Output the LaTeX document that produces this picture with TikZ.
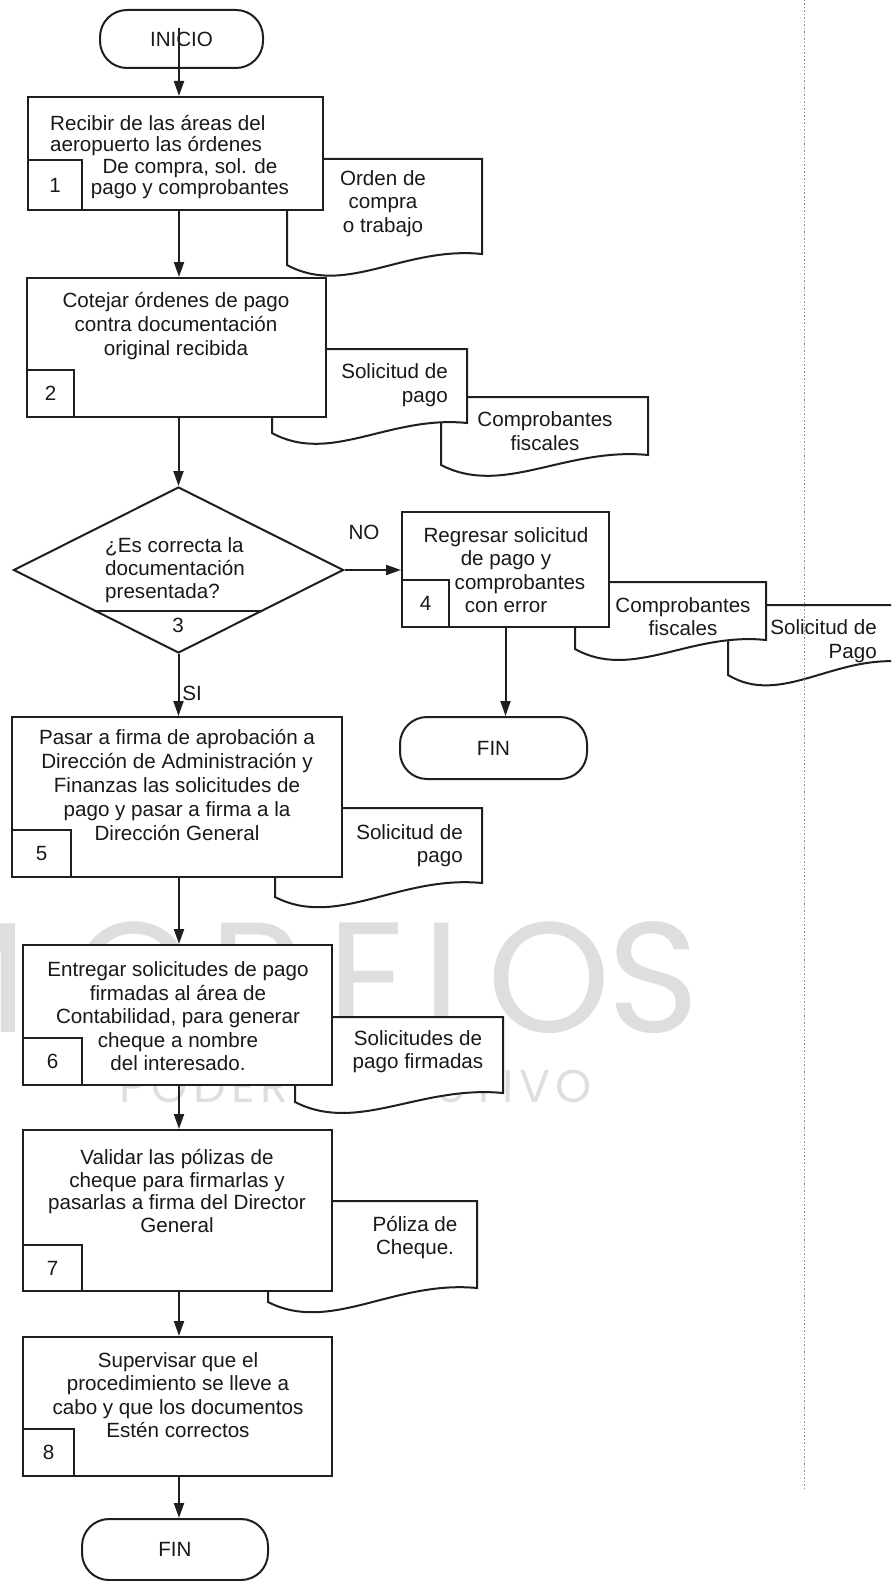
\documentclass[tikz,border=0pt]{standalone}
\usepackage{fontspec}
\setmainfont{Liberation Sans}
\newfontfamily\wmfont{Poppins}
\usetikzlibrary{arrows.meta,calc,shapes.geometric}

\tikzset{
  ln/.style={line width=2pt, draw=black!88},
  proc/.style={ln, fill=white, rectangle, inner sep=0pt},
  numbox/.style={ln, fill=white, rectangle, inner sep=0pt, anchor=south west,
    text=black!90, font=\fontsize{20.6}{23.5}\selectfont},
  term/.style={ln, fill=white, rectangle, rounded corners=27pt, inner sep=0pt,
    text=black!90, font=\fontsize{20.6}{23.5}\selectfont},
  txt/.style={inner sep=0pt, align=center, text=black!90, font=\fontsize{20.6}{23.5}\selectfont},
  arr/.style={ln, -{Triangle[length=15pt,width=10pt]}},
  docline/.style={ln, fill=white},
  wm/.style={inner sep=0pt, text=black!13, anchor=base, font=\wmfont\fontsize{157}{157}\selectfont},
  wmsub/.style={inner sep=0pt, text=black!13, anchor=base east, font=\wmfont\fontsize{46}{46}\selectfont},
  guide/.style={draw=black!45, line width=0.7pt, dash pattern=on 1.5pt off 2pt},
}

% document symbol: left x, top y, right x, bottom-left y, bottom-right y
\newcommand\docshape[5]{%
  \draw[docline] (#1,#2) -- (#3,#2) -- (#3,#5)
    .. controls ({#1+0.6*(#3-#1)},{#5-8}) and ({#1+0.3*(#3-#1)},{#4+32}) .. (#1,#4) -- cycle;}

\begin{document}
\begin{tikzpicture}[x=1pt,y=-1pt]
\useasboundingbox (0,0) rectangle (891,1581);
\clip (0,0) rectangle (891,1581);

% faint background lettering
\node[wm] (wmM)  at (-40,1032) {M};
\node[wm] (wmO1) at (134,1032) {O};
\node[wm] (wmR)  at (257,1032) {R};
\node[wm] (wmE)  at (368,1032) {E};
\node[wm] (wmL)  at (456,1032) {L};
\node[wm] (wmO2) at (549,1032) {O};
\node[wm] (wmS)  at (654,1032) {S};
\node[wmsub] (wmsub) at (592,1102) {\addfontfeature{LetterSpace=12}PODER EJECUTIVO};

% documents (back to front)
\docshape{287}{159}{482}{265}{254}
\docshape{441}{397}{648}{465}{455}
\docshape{272}{349}{467}{433}{423}
\docshape{728}{605}{905}{675}{662}
\docshape{575}{582}{766}{649}{640}
\docshape{275}{808}{482}{897}{883}
\docshape{295}{1017}{503}{1102}{1093}
\docshape{268}{1201}{477}{1302}{1288}

% terminals
\node[term, minimum width=163pt, minimum height=58pt] (inicio) at (181.5,39) {INICIO};
\node[term, minimum width=187pt, minimum height=62pt] (fin1) at (493.5,748) {FIN};
\node[term, minimum width=186pt, minimum height=61pt] (fin2) at (175,1549.5) {FIN};

% process boxes
\node[proc, minimum width=295pt, minimum height=113pt] (box1) at (175.5,153.5) {};
\node[proc, minimum width=299pt, minimum height=139pt] (box2) at (176.5,347.5) {};
\node[proc, minimum width=207pt, minimum height=115pt] (box4) at (505.5,569.5) {};
\node[proc, minimum width=330pt, minimum height=160pt] (box5) at (177,797) {};
\node[proc, minimum width=309pt, minimum height=140pt] (box6) at (177.5,1015) {};
\node[proc, minimum width=309pt, minimum height=161pt] (box7) at (177.5,1210.5) {};
\node[proc, minimum width=309pt, minimum height=139pt] (box8) at (177.5,1406.5) {};

% decision
\node[ln, fill=white, diamond, minimum width=330pt, minimum height=166pt, inner sep=0pt] (dia) at (178.5,570) {};
\draw[ln] ($(dia.west)!0.49!(dia.south)$) -- ($(dia.east)!0.49!(dia.south)$);

% step numbers
\node[numbox, minimum width=54pt, minimum height=50pt] (n1) at (box1.south west) {1};
\node[numbox, minimum width=47pt, minimum height=47pt] (n2) at (box2.south west) {2};
\node[numbox, minimum width=47pt, minimum height=47pt] (n4) at (box4.south west) {4};
\node[numbox, minimum width=59pt, minimum height=47pt] (n5) at (box5.south west) {5};
\node[numbox, minimum width=59pt, minimum height=47pt] (n6) at (box6.south west) {6};
\node[numbox, minimum width=59pt, minimum height=46pt] (n7) at (box7.south west) {7};
\node[numbox, minimum width=51pt, minimum height=47pt] (n8) at (box8.south west) {8};

% connectors
\coordinate (colx) at (179,0);
\draw[arr] ([xshift=-2.5pt,yshift=11pt]inicio.center) -- (box1.north -| colx);
\draw[arr] (box1.south -| colx) -- (box2.north -| colx);
\draw[arr] (box2.south -| dia.north) -- (dia.north);
\draw[arr] (dia.south) -- (box5.north -| dia.south);
\draw[arr] (dia.east) -- (dia.east -| box4.west);
\draw[arr] (box4.south) -- (box4.south |- fin1.north);
\draw[arr] (box5.south -| colx) -- (box6.north -| colx);
\draw[arr] (box6.south -| colx) -- (box7.north -| colx);
\draw[arr] (box7.south -| colx) -- (box8.north -| colx);
\draw[arr] (box8.south -| colx) -- (fin2.north -| colx);

% labels
\node[txt] (lno) at (364,532) {NO};
\node[txt] (lsi) at (192,693) {SI};
\node[txt] (l3) at (178,625) {3};

% texts
\node[txt, align=left, anchor=west, font=\fontsize{20.6}{21.5}\selectfont] (t1a) at (50,135.5)
  {Recibir de las áreas del\\aeropuerto las órdenes};
\node[txt, font=\fontsize{20.6}{21.5}\selectfont] (t1b) at (190,178.5)
  {De compra, sol. de\\pago y comprobantes};
\node[txt] (d1) at (383,203.5) {Orden de\\compra\\o trabajo};
\node[txt, font=\fontsize{20.6}{24}\selectfont] (t2) at (176,326) {Cotejar órdenes de pago\\contra documentación\\original recibida};
\node[txt, align=right, anchor=east] (d2a) at (448,385) {Solicitud de\\pago};
\node[txt] (d2b) at (545,431) {Comprobantes\\fiscales};
\node[txt, align=left, anchor=west, font=\fontsize{20.6}{23}\selectfont] (tdia) at (105,570)
  {¿Es correcta la\\documentación\\presentada?};
\node[txt, font=\fontsize{20.6}{23.3}\selectfont] (t4) at (506,570)
  {Regresar solicitud\\de pago y\\\hspace*{28pt}comprobantes\\con error};
\node[txt] (d4a) at (683,616.5) {Comprobantes\\fiscales};
\node[txt, align=right, anchor=east] (d4b) at (877,641) {Solicitud de\\Pago};
\node[txt, font=\fontsize{20.6}{23.8}\selectfont] (t5) at (177,785)
  {Pasar a firma de aprobación a\\Dirección de Administración y\\Finanzas las solicitudes de\\pago y pasar a firma a la\\Dirección General};
\node[txt, align=right, anchor=east] (d5) at (463,845.5) {Solicitud de\\pago};
\node[txt] (t6) at (178,1016.5)
  {Entregar solicitudes de pago\\firmadas al área de\\Contabilidad, para generar\\cheque a nombre\\del interesado.};
\node[txt] (d6) at (418,1051.5) {Solicitudes de\\pago firmadas};
\node[txt, font=\fontsize{20.6}{22.7}\selectfont] (t7) at (177,1191)
  {Validar las pólizas de\\cheque para firmarlas y\\pasarlas a firma del Director\\General};
\node[txt] (d7) at (415,1237.5) {Póliza de\\Cheque.};
\node[txt] (t8) at (178,1395)
  {Supervisar que el\\procedimiento se lleve a\\cabo y que los documentos\\Estén correctos};

% page guide line
\coordinate (g1) at (804,0);
\coordinate (g2) at (804,1490);
\draw[guide] (g1) -- (g2);
\end{tikzpicture}
\end{document}
